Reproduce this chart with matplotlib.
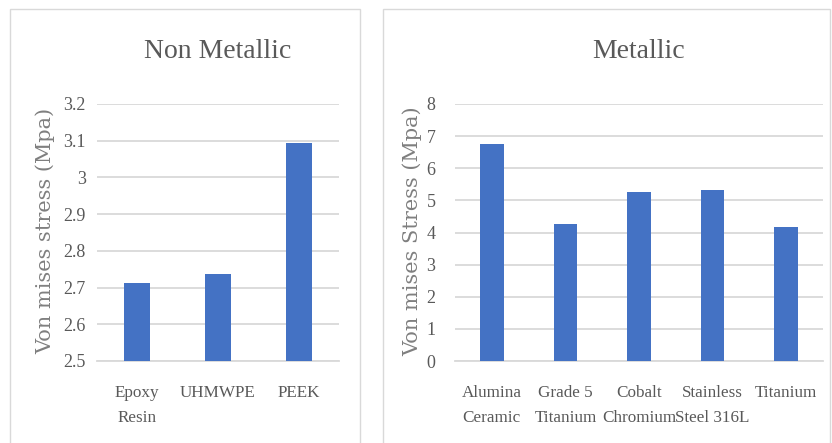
import matplotlib.pyplot as plt
from matplotlib.patches import Rectangle

# stress results per material group
nonmetal_names = ["Epoxy\nResin", "UHMWPE", "PEEK"]
nonmetal_stress = [2.713, 2.736, 3.093]

metal_names = ["Alumina\nCeramic", "Grade 5\nTitanium", "Cobalt\nChromium",
               "Stainless\nSteel 316L", "Titanium"]
metal_stress = [6.77, 4.26, 5.27, 5.31, 4.16]

W, H = 832, 443
BAR = "#4472C4"
GRID = "#d9d9d9"
TXT = "#595959"
SERIF = ["Liberation Serif", "DejaVu Serif"]


def box(x0, y0, x1, y1):
    # pixel box (top-left origin) -> figure fraction rect
    return [x0 / W, 1 - y1 / H, (x1 - x0) / W, (y1 - y0) / H]


def panel(fig, rect_px, axes_px, names, values, ylim, step, title, ylabel,
          ypad, ylab_x):
    x0, y0, x1, y1 = rect_px
    fig.patches.append(Rectangle((x0 / W, 1 - y1 / H), (x1 - x0) / W, (y1 - y0) / H,
                                 transform=fig.transFigure, fill=False,
                                 edgecolor=GRID, lw=1.0))
    ax = fig.add_axes(box(*axes_px))
    ax.bar(range(len(values)), values, width=0.32, color=BAR, zorder=3)
    ax.set_xlim(-0.5, len(values) - 0.5)
    ax.set_ylim(*ylim)
    ticks = []
    t = ylim[0]
    while t <= ylim[1] + 1e-9:
        ticks.append(round(t, 2))
        t += step
    ax.set_yticks(ticks)
    ax.set_yticklabels([f"{v:g}" for v in ticks], fontfamily=SERIF,
                       fontsize=13, color=TXT)
    ax.set_xticks(range(len(values)))
    ax.set_xticklabels(names, fontfamily=SERIF, fontsize=12.3, color=TXT,
                       linespacing=1.75)
    ax.tick_params(axis="both", length=0)
    ax.tick_params(axis="y", pad=ypad)
    ax.tick_params(axis="x", pad=17)
    ax.yaxis.grid(True, color=GRID, lw=1.3, zorder=0)
    for s in ("top", "right", "left"):
        ax.spines[s].set_visible(False)
    ax.spines["bottom"].set_color(GRID)
    ax.spines["bottom"].set_linewidth(1.3)
    ax.spines["bottom"].set_zorder(1)

    ax_x0, ax_y0, ax_x1, ax_y1 = axes_px
    fig.text((ax_x0 + ax_x1) / 2 / W, 1 - 52 / H, title, ha="center",
             va="center", fontfamily=SERIF, fontsize=20, color=TXT)
    fig.text(ylab_x / W, 1 - 231 / H, ylabel, rotation=90, ha="center",
             va="center", fontfamily="DejaVu Serif", fontsize=15,
             color="#7f7f7f")
    return ax


fig = plt.figure(figsize=(W / 100, H / 100), dpi=100)

panel(fig, (10, 9, 360, 460), (97, 104, 339, 361), nonmetal_names,
      nonmetal_stress, (2.5, 3.2), 0.1, "Non Metallic",
      "Von mises stress (Mpa)", 8, 45)
panel(fig, (383, 9, 830, 460), (455, 104, 823, 361), metal_names,
      metal_stress, (0, 8), 1, "Metallic",
      "Von mises Stress (Mpa)", 14, 412)

fig.savefig("out.png", dpi=100)
